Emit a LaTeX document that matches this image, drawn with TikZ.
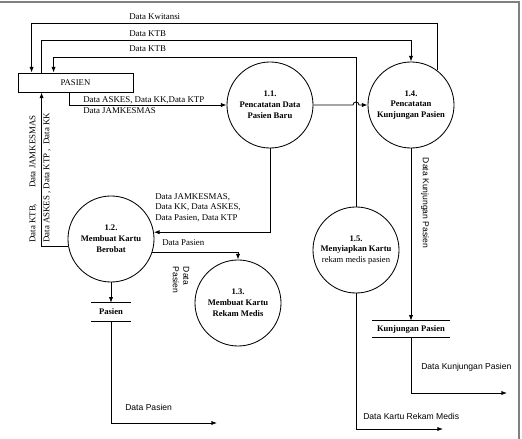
\documentclass[tikz,border=0pt]{standalone}
\usepackage{fontspec}
\setmainfont{Liberation Serif}
\setsansfont{Liberation Sans}
\usetikzlibrary{arrows.meta,calc,positioning}
\tikzset{
  proses/.style={circle,draw,line width=0.6pt,minimum size=2.15cm,inner sep=0pt,align=center,font=\fontsize{6.1}{7.7}\selectfont\bfseries},
  entitas/.style={draw,line width=0.6pt,minimum width=2.875cm,minimum height=0.475cm,font=\fontsize{6.2}{7}\selectfont},
  simpanan/.style={minimum height=0.45cm,inner sep=0pt,font=\fontsize{6.1}{7}\selectfont\bfseries,
    append after command={(\tikzlastnode.north west) edge[line width=0.6pt] (\tikzlastnode.north east)
      (\tikzlastnode.south west) edge[line width=0.6pt] (\tikzlastnode.south east)}},
  alur/.style={-{Latex[length=4pt,width=3pt]},line width=0.6pt},
  ket/.style={font=\fontsize{6.3}{7.5}\selectfont,inner sep=0pt},
  ketsans/.style={font=\sffamily\fontsize{6.1}{7.5}\selectfont,inner sep=0pt}
}
\begin{document}
\begin{tikzpicture}[x=0.025cm,y=-0.025cm]
    \useasboundingbox (0,0) rectangle (522,439);
    \draw[gray,line width=0.9pt] (0,2) -- (519,2) -- (519,439);

    \node[entitas] (pasien) at (75.5,82.5) {PASIEN};
    \node[proses] (p11) at (270,105) {1.1.\\Pencatatan Data\\Pasien Baru};
    \node[proses] (p12) at (111,239) {1.2.\\Membuat Kartu\\Berobat};
    \node[proses] (p13) at (238,303) {1.3.\\Membuat Kartu\\Rekam Medis};
    \node[proses] (p14) at (411,105) {1.4.\\Pencatatan\\Kunjungan Pasien};
    \node[proses] (p15) at (356,250) {1.5.\\Menyiapkan Kartu\\{\mdseries rekam medis pasien}};
    \node[simpanan,minimum width=0.975cm] (dsPasien) at (111,312) {Pasien};
    \node[simpanan,minimum width=1.925cm,minimum height=0.4cm] (dsKunjungan) at (411,329) {Kunjungan Pasien};
    \coordinate (keluarPasien) at (217,423);
    \coordinate (keluarKartu) at (443,429);
    \coordinate (keluarKunjungan) at (507,393);

    \draw[alur] (p14.53) -- (p14.53 |- 0,23) -| ($(pasien.north west)+(14,0)$);
    \draw[alur] ($(pasien.north west)+(24,0)$) -- ++(0,-32) -| (p14.north);
    \draw[alur] (p15.north) -- (p15.north |- 0,57) -| ($(pasien.north west)+(36,0)$);
    \draw[alur] ($(pasien.south west)+(52,0)$) |- (p11.west);
    \draw[alur] (p11.east) -- ($(p15.north |- p11.east)+(-3,0)$) arc[start angle=180,end angle=360,radius=3] -- (p14.west);
    \draw[alur] (p11.south) |- (p12.9);
    \draw[alur] (p12.190) -| ($(pasien.south west)+(24,0)$);
    \draw[alur] (p12.-18) -| (p13.north);
    \draw[alur] (p12.south) -- (dsPasien.north);
    \draw[alur] (dsPasien.south) |- (keluarPasien);
    \draw[alur] (p14.south) -- (dsKunjungan.north);
    \draw[alur] (dsKunjungan.south) |- (keluarKunjungan);
    \draw[alur] (p15.south) |- (keluarKartu);

    \node[ket,anchor=west] at (129,17) {Data Kwitansi};
    \node[ket,anchor=west] at (129,34) {Data KTB};
    \node[ket,anchor=west] at (129,49) {Data KTB};
    \node[ket,anchor=west] at (83,100) {Data ASKES, Data KK,Data KTP};
    \node[ket,anchor=west] at (83,111) {Data JAMKESMAS};
    \node[ket,anchor=north west,align=left] at (155,193) {Data JAMKESMAS,\\ Data KK, Data ASKES,\\Data Pasien, Data KTP};
    \node[ket,anchor=west] at (162,243) {Data Pasien};
    \node[ketsans,rotate=-90,align=left] at (181,280) {Data\\Pasien};
    \node[ketsans,rotate=-90] at (425,203) {Data Kunjungan Pasien};
    \node[ket,rotate=90,anchor=west] at (33,243) {Data KTB,\hspace{1.8em}Data JAMKESMAS};
    \node[ket,rotate=90,anchor=west] at (47,243) {Data ASKES , Data KTP ,\ \ Data KK};
    \node[ketsans,anchor=west] at (125,407) {Data Pasien};
    \node[ketsans,anchor=west] at (363,416) {Data Kartu Rekam Medis};
    \node[ketsans,anchor=west] at (421,367) {Data Kunjungan Pasien};
\end{tikzpicture}
\end{document}
